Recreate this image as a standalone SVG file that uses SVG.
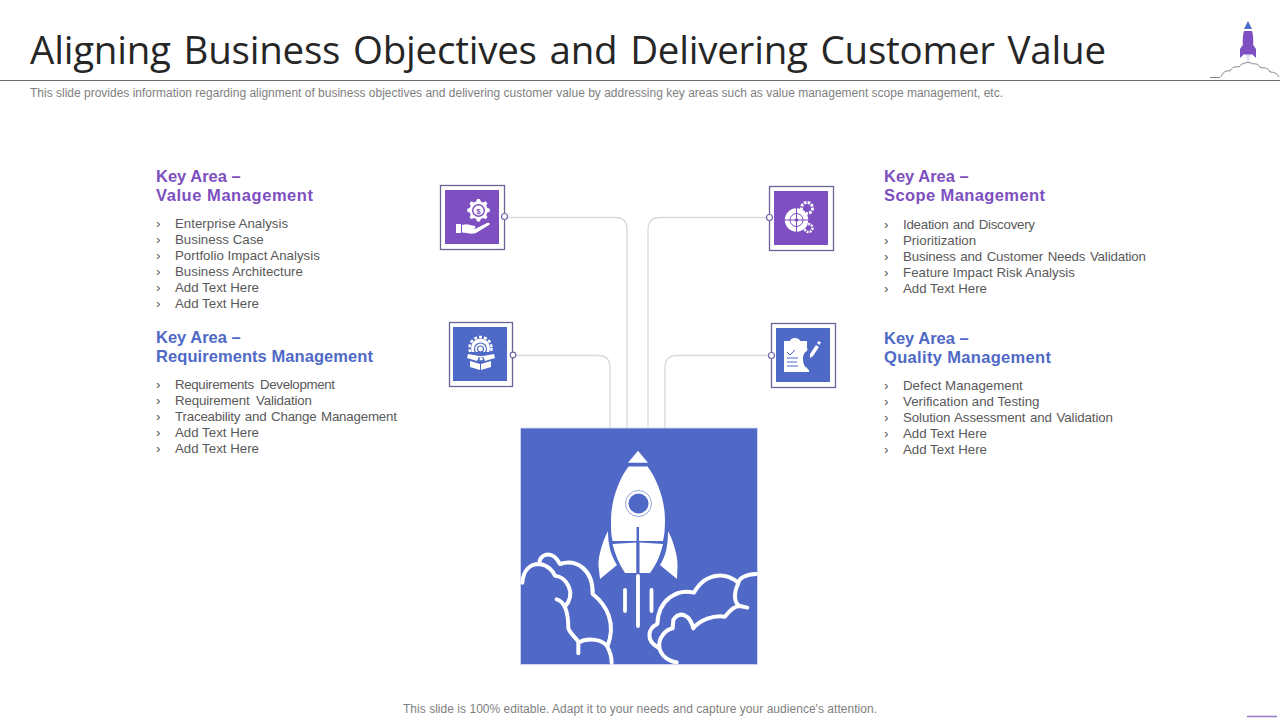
<svg xmlns="http://www.w3.org/2000/svg" width="1280" height="720" viewBox="0 0 1280 720">
<style>
.t{font-family:"Open Sans","Liberation Sans",sans-serif;font-size:38.500px;fill:#262626;word-spacing:3px}
.s{font-family:"Liberation Sans",Arial,sans-serif;font-size:12px;fill:#7f7f7f}
.hp{font-family:"Liberation Sans",Arial,sans-serif;font-size:16.500px;font-weight:bold;fill:#7d4fc0}
.hb{font-family:"Liberation Sans",Arial,sans-serif;font-size:16.500px;font-weight:bold;fill:#4f69c6}
.b{font-family:"Liberation Sans",Arial,sans-serif;font-size:13.300px;fill:#595959}
.c{fill:none;stroke:#d9d9de;stroke-width:1.300}
.f{fill:#fff;stroke:#6a6396;stroke-width:1.300}
.d{fill:#fff;stroke:#6f6aa8;stroke-width:1.200}
.w{fill:#fff}
.wl{fill:none;stroke:#fff;stroke-linecap:round;stroke-linejoin:round}
</style>
<rect width="1280" height="720" fill="#fff"/>
<text class="t" x="30" y="64" textLength="1076" lengthAdjust="spacing">Aligning Business Objectives and Delivering Customer Value</text>
<path d="M0 80.500H1280" stroke="#6b6b6b" stroke-width="1"/>
<text class="s" x="30" y="97" textLength="973" lengthAdjust="spacing">This slide provides information regarding alignment of business objectives and delivering customer value by addressing key areas such as value management scope management, etc.</text>
<g id="logo">
<path d="M1248 21l4 8h-8z" fill="#4f69c6"/>
<path d="M1244 31h8c1 3 1.500 8 1.200 14l2.800 4v9l-3.500-3.500h-9l-3.500 3.500v-9l2.800-4c-.3-6 .2-11 1.200-14z" fill="#7d4fc0"/>
<path d="M1246 55h4l-1 7h-2z" fill="#e3dff0"/>
<path d="M1210 77.500h10M1221 77c1-4 5-7 9-6 1-3 5-5 9-4 2-4 10-6 14-3 3-1 6 1 8 4 4-1 8 1 9 4 3 0 7 1 9 5" fill="none" stroke="#77777c" stroke-width=".9"/>
</g>
<g id="connectors">
<path class="c" d="M505 217.500H615Q627 217.500 627 229.500V428"/>
<path class="c" d="M513 355.500H598Q610 355.500 610 367.500V428"/>
<path class="c" d="M769 217.500H660Q648 217.500 648 229.500V428"/>
<path class="c" d="M771 355.500H677Q665 355.500 665 367.500V428"/>
</g>
<g id="node-value-icon">
<rect class="f" x="440.500" y="185.500" width="64" height="64"/>
<rect x="445" y="190" width="54" height="54" fill="#7d4fc0"/>
<path class="w" d="M477 199h3l.8 2.500 2.400 1 2.300-1.200 2 2-1.200 2.300 1 2.400 2.500.8v3l-2.500.8-1 2.400 1.200 2.300-2 2-2.300-1.200-2.400 1-.8 2.500h-3l-.8-2.500-2.400-1-2.300 1.200-2-2 1.200-2.300-1-2.400-2.500-.8v-3l2.500-.8 1-2.400-1.200-2.300 2-2 2.300 1.200 2.400-1z"/>
<circle cx="478.500" cy="210.500" r="6.500" fill="#7d4fc0"/>
<circle cx="478.500" cy="210.500" r="5" class="w"/>
<text x="478.500" y="213.500" font-family="Liberation Sans,sans-serif" font-size="8" font-weight="bold" text-anchor="middle" fill="#7d4fc0">$</text>
<path class="w" d="M456 224h5v9h-5zM462 225c3-1 6-1 8 0l5 1c1 1 0 3-2 3h-5 7l12-6c2-1 4 1 2 2l-13 8c-3 1-6 1-9 0l-5-.5z"/>
</g>
<circle class="d" cx="504.500" cy="216.500" r="3"/>
<g id="node-requirements-icon">
<rect class="f" x="449.500" y="322.500" width="63" height="64"/>
<rect x="453" y="327" width="54" height="54" fill="#4f69c6"/>
<circle cx="480.500" cy="348" r="9.500" class="w"/>
<circle cx="480.500" cy="348" r="11" fill="none" stroke="#fff" stroke-width="2.500" stroke-dasharray="3 2"/>
<circle cx="480.500" cy="349" r="6" fill="none" stroke="#4f69c6" stroke-width="1.200"/>
<circle cx="480.500" cy="349" r="3" fill="none" stroke="#4f69c6" stroke-width="1.200"/>
<path fill="#4f69c6" d="M468 352h25v4h-25z"/>
<path class="w" d="M468 354l11 2-2 5-10-3zM494 354l-11 2 2 5 10-3zM470 361l10 3v6l-10-3zM491 361l-10 3v6l10-3z"/>
</g>
<circle class="d" cx="513" cy="355" r="2.800"/>
<g id="node-scope-icon">
<rect class="f" x="769.500" y="186.500" width="64" height="64"/>
<rect x="774" y="191" width="54" height="54" fill="#7d4fc0"/>
<circle cx="807" cy="208" r="5.500" fill="none" stroke="#fff" stroke-width="3" stroke-dasharray="2.500 1.200"/>
<circle cx="808.500" cy="228" r="4" fill="none" stroke="#fff" stroke-width="2.500" stroke-dasharray="2 1"/>
<circle cx="796.500" cy="220" r="11.700" class="w"/>
<circle cx="796.500" cy="220" r="6.500" fill="none" stroke="#7d4fc0" stroke-width="1"/>
<circle cx="796.500" cy="220" r="1.800" fill="#7d4fc0"/>
<path d="M784 220h25M796.500 208v25" stroke="#7d4fc0" stroke-width="1"/>
</g>
<circle class="d" cx="769.500" cy="217.500" r="3"/>
<g id="node-quality-icon">
<rect class="f" x="771.500" y="323.500" width="64" height="64"/>
<rect x="776" y="328" width="54" height="54" fill="#4f69c6"/>
<path class="w" d="M784 341h6c0-2 3-3 5-3s5 1 5 3h7v10c-3 1-4 5-4 8 0 5 2 9 6 11v2h-25z"/>
<path d="M787 352l3 3 5-5M787 358h11M787 362h10M787 366h11" fill="none" stroke="#4f69c6" stroke-width="1"/>
<path class="wl" d="M806 349c-3 2-6 6-6 10s3 9 6 10" stroke-width="3" stroke-dasharray="3 1.500" stroke-linecap="butt"/>
<path class="w" d="M810 354l6-9 3 2-6 9-3 2z"/>
<path class="w" d="M817 343l1.500-2 2.500 1.500-1.500 2.500z"/>
</g>
<circle class="d" cx="771.500" cy="355.500" r="3"/>
<g id="node-rocket">
<rect x="520.500" y="428" width="237" height="236.500" fill="#5069c7" stroke="#d5dcf3" stroke-width=".8"/>
<path class="w" d="M638 450.800L648 462.700H628z"/>
<path class="w" d="M628.500 466.500H647.500C657 479 665 500 665 520C665 528 664.500 535 663 541L612.500 541C611 535 611 528 611 520C611 500 619 479 628.500 466.500z"/>
<path class="w" d="M612.500 544L636.500 542.500V573H625C619 564 615 554 612.500 544zM639.500 542.500L663 544C660.500 554 657 564 650 573H639.500z"/>
<circle cx="638.500" cy="503.500" r="10" fill="#5069c7"/>
<circle cx="638.500" cy="503.500" r="13" fill="none" stroke="#5069c7" stroke-width=".6"/>
<path d="M637.800 527V573" stroke="#5069c7" stroke-width="2.500"/>
<path class="w" d="M608 531C603 540 598 556 598.500 566L600 579L617 565C611 556 608 545 608 531z"/>
<path class="w" d="M668 531C673 540 678 556 677.500 566L677 579L660 565C666 556 668 545 668 531z"/>
<path class="wl" d="M638 576V626M625 590V611M651.500 590V611" stroke-width="3.800"/>
<g transform="translate(510 420) scale(.3333)">
<path class="wl" stroke-width="12" d="M37 488C40 450 60 432 88 432C85 405 125 385 150 432C200 415 250 450 248 522C290 555 320 610 292 680M88 432C115 435 130 455 135 467C170 470 200 520 165 560M140 538C165 545 175 575 175 625C180 640 195 650 205 665L205 700M205 668C235 650 280 660 292 680C300 695 305 715 305 728"/>
<path class="wl" stroke-width="12" d="M738 462C710 462 685 475 685 490C670 520 672 550 690 558L712 563M685 490C660 460 590 450 552 518C500 505 445 540 442 612C415 625 405 660 445 683M550 625C540 585 510 570 490 600L488 625C465 630 445 655 448 680C450 705 475 725 500 727M550 625C570 600 610 585 645 590C660 570 675 558 690 558"/>
</g>
</g>
<g id="text-value">
<text class="hp" x="156" y="182">Key Area –</text>
<text class="hp" x="156" y="201" textLength="157" lengthAdjust="spacing">Value Management</text>
<g class="b"><text x="156" y="228">›</text><text x="175" y="228">Enterprise Analysis</text><text x="156" y="244">›</text><text x="175" y="244">Business Case</text><text x="156" y="260">›</text><text x="175" y="260">Portfolio Impact Analysis</text><text x="156" y="276">›</text><text x="175" y="276">Business Architecture</text><text x="156" y="292">›</text><text x="175" y="292">Add Text Here</text><text x="156" y="308">›</text><text x="175" y="308">Add Text Here</text></g>
</g>
<g id="text-requirements">
<text class="hb" x="156" y="343">Key Area –</text>
<text class="hb" x="156" y="362" textLength="217" lengthAdjust="spacing">Requirements Management</text>
<g class="b"><text x="156" y="389">›</text><text x="175" y="389" word-spacing="3" textLength="160" lengthAdjust="spacing">Requirements Development</text><text x="156" y="405">›</text><text x="175" y="405" word-spacing="3" textLength="137" lengthAdjust="spacing">Requirement Validation</text><text x="156" y="421">›</text><text x="175" y="421" word-spacing="1" textLength="222" lengthAdjust="spacing">Traceability and Change Management</text><text x="156" y="437">›</text><text x="175" y="437">Add Text Here</text><text x="156" y="453">›</text><text x="175" y="453">Add Text Here</text></g>
</g>
<g id="text-scope">
<text class="hp" x="884" y="182">Key Area –</text>
<text class="hp" x="884" y="201" textLength="161" lengthAdjust="spacing">Scope Management</text>
<g class="b"><text x="884" y="229">›</text><text x="903" y="229" word-spacing="1" textLength="132" lengthAdjust="spacing">Ideation and Discovery</text><text x="884" y="245">›</text><text x="903" y="245">Prioritization</text><text x="884" y="261">›</text><text x="903" y="261" word-spacing="1" textLength="243" lengthAdjust="spacing">Business and Customer Needs Validation</text><text x="884" y="277">›</text><text x="903" y="277" textLength="172" lengthAdjust="spacing">Feature Impact Risk Analysis</text><text x="884" y="293">›</text><text x="903" y="293">Add Text Here</text></g>
</g>
<g id="text-quality">
<text class="hb" x="884" y="344">Key Area –</text>
<text class="hb" x="884" y="363" textLength="167" lengthAdjust="spacing">Quality Management</text>
<g class="b"><text x="884" y="390">›</text><text x="903" y="390">Defect Management</text><text x="884" y="406">›</text><text x="903" y="406">Verification and Testing</text><text x="884" y="422">›</text><text x="903" y="422" word-spacing="1" textLength="210" lengthAdjust="spacing">Solution Assessment and Validation</text><text x="884" y="438">›</text><text x="903" y="438">Add Text Here</text><text x="884" y="454">›</text><text x="903" y="454">Add Text Here</text></g>
</g>
<text class="s" x="403" y="713" textLength="474" lengthAdjust="spacing">This slide is 100% editable. Adapt it to your needs and capture your audience's attention.</text>
<path d="M1247 716.500H1277" stroke="#9a7fcc" stroke-width="1.600"/>
</svg>
